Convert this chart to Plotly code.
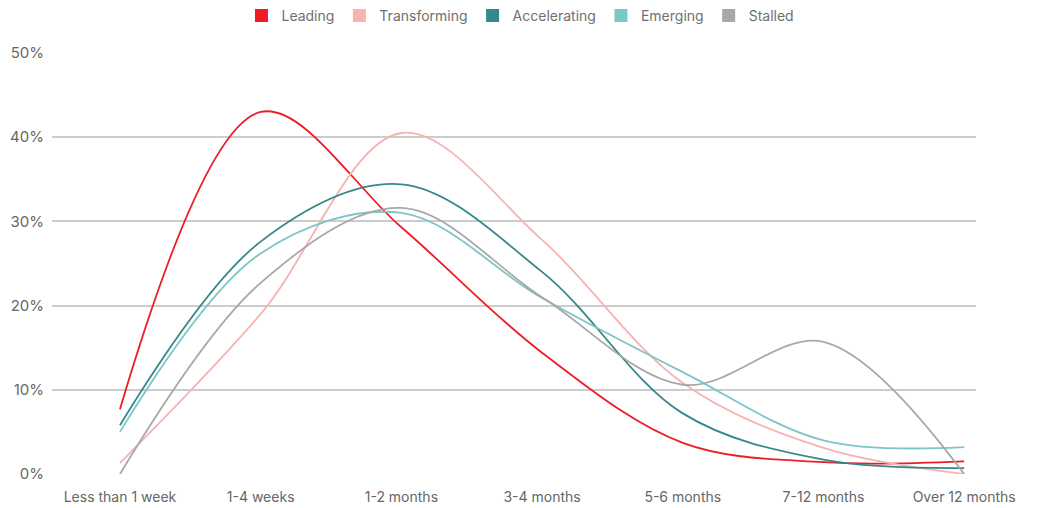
import plotly.graph_objects as go

categories = ["Less than 1 week", "1-4 weeks", "1-2 months", "3-4 months",
              "5-6 months", "7-12 months", "Over 12 months"]
leading = [7.7, 43.0, 29.3, 14.4, 3.7, 1.4, 1.5]
transforming = [1.3, 19.0, 40.5, 27.8, 10.8, 3.1, 0.0]
accelerating = [5.8, 27.6, 34.4, 24.0, 7.2, 1.7, 0.7]
emerging = [5.0, 26.2, 31.0, 20.9, 12.1, 4.0, 3.2]
stalled = [0.0, 22.7, 31.6, 21.0, 10.6, 15.7, 0.0]

series_names = ["Leading", "Transforming", "Accelerating", "Emerging", "Stalled"]
series_values = [leading, transforming, accelerating, emerging, stalled]
colors = ["#EE1C25", "#F7B2B2", "#35888A", "#7CC6C6", "#A8A8A8"]
y_ticks = [0, 10, 20, 30, 40, 50]
y_labels = [f"{v}%" for v in y_ticks]

xs = list(range(len(categories)))
fig = go.Figure()
for name, vals, col in zip(series_names, series_values, colors):
    fig.add_trace(go.Scatter(x=xs, y=vals, mode="lines", name=name,
                             line=dict(color=col, width=1.8, shape="spline", smoothing=1.0),
                             showlegend=False, hoverinfo="skip"))
for name, col in zip(series_names, colors):
    fig.add_trace(go.Scatter(x=[None], y=[None], mode="markers", name=name,
                             marker=dict(symbol="square", size=13, color=col)))

# page body has an 8px margin, so the figure is 8px smaller and shifted
fig.update_layout(
    width=1030, height=500,
    margin=dict(l=44, r=62, t=45, b=34, autoexpand=False),
    paper_bgcolor="white", plot_bgcolor="white",
    font=dict(family="Inter, 'Open Sans', sans-serif", color="#6a6a6a", size=14),
    legend=dict(orientation="h", x=0.507, xanchor="center", y=1.088, yanchor="middle",
                font=dict(size=14, color="#707070"), itemwidth=30, tracegroupgap=0),
    xaxis=dict(range=[-0.483, 6.084], tickvals=xs, ticktext=categories,
               showgrid=False, zeroline=False, showline=False, ticks="",
               automargin=False, ticklabelstandoff=13,
               tickfont=dict(size=14, color="#666666"), fixedrange=True),
    yaxis=dict(range=[0, 50], tickvals=y_ticks, ticktext=y_labels,
               showgrid=True, gridcolor="#cccccc", gridwidth=1.5,
               zeroline=False, showline=False, ticks="", ticklabelstandoff=7,
               automargin=False,
               tickfont=dict(size=15, color="#666666"), fixedrange=True),
)

fig.write_html("out.html")
